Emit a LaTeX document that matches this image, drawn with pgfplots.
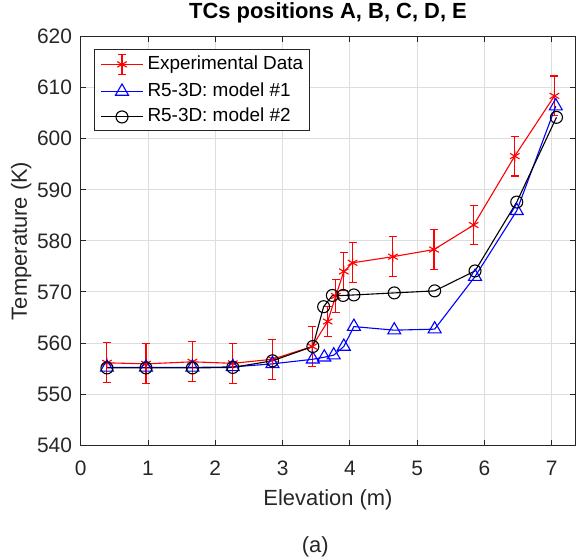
\documentclass[border=0pt]{standalone}
\usepackage{pgfplots}
\pgfplotsset{compat=1.18}
\usepackage{fontspec}
\setmainfont{Liberation Sans}

\definecolor{axgray}{RGB}{38,38,38}
\definecolor{gridgray}{RGB}{222,222,222}

% Legend sample: a 42bp line with the marker in the middle
\pgfplotsset{
  linelegend/.style={legend image code/.code={
    \draw[##1, mark=none] (0bp,0bp) -- (42bp,0bp);
    \draw[##1] plot coordinates {(21bp,0bp)};
  }},
  errlegend/.style={legend image code/.code={
    \draw[##1, mark=none] (0bp,0bp) -- (42bp,0bp);
    \draw[red, line width=1.1bp] (21bp,-10bp) -- (21bp,10bp)
         (17bp,-10bp) -- (25bp,-10bp) (17bp,10bp) -- (25bp,10bp);
    \draw[##1] plot coordinates {(21bp,0bp)};
  }},
}

\begin{document}
\begin{tikzpicture}
\path[use as bounding box] (-80.7bp,-115bp) rectangle (495.3bp,445bp);
\begin{axis}[
  at={(0,0)}, anchor=south west,
  scale only axis, width=494.6bp, height=408.3bp,
  xmin=0, xmax=7.35, ymin=540, ymax=620,
  xtick={0,1,...,7}, ytick={540,550,...,620},
  grid=major, major grid style={gridgray, line width=0.8bp},
  axis line style={axgray, line width=0.8bp},
  tick align=inside, tick pos=both, major tick length=5bp,
  tick style={axgray, line width=0.8bp},
  /pgf/number format/assume math mode=true,
  /pgf/number format/1000 sep={},
  ticklabel style={font=\fontsize{21}{21}\selectfont, text=axgray, inner sep=0pt},
  xticklabel style={anchor=north, yshift=-16bp},
  yticklabel style={anchor=east, xshift=-8.5bp},
  xlabel={Elevation (m)}, ylabel={Temperature (K)},
  label style={font=\fontsize{22}{22}\selectfont, text=axgray, inner sep=0pt},
  xlabel style={at={(axis description cs:0.5,-0.147)}, anchor=base},
  ylabel style={at={(axis description cs:-0.1086,0.5)}, anchor=base},
  title={TCs positions A, B, C, D, E},
  title style={at={(axis description cs:0.5,1.0299)}, anchor=base, inner sep=0pt,
               yshift=0pt, font=\bfseries\fontsize{22}{22}\selectfont, text=black},
  legend style={at={(axis description cs:0.027,0.970)}, anchor=north west,
                draw=axgray, line width=0.8bp, fill=white,
                font=\fontsize{19}{19}\selectfont, text=black,
                inner xsep=6bp, inner ysep=4.5bp, row sep=7.5bp,
                nodes={inner sep=0pt, text height=14bp, text depth=4bp},
                column sep=4bp},
  legend cell align=left,
]

% Experimental data with measurement uncertainty
\addplot[red, line width=1.1bp, mark=asterisk, mark size=5.5bp,
  mark options={solid, line width=1.1bp}, errlegend,
  error bars/.cd, y dir=both, y explicit,
  error bar style={red, line width=1.1bp},
  error mark options={rotate=90, mark size=4bp, line width=1.1bp, red}]
  table[x=x, y=y, y error=e] {
  x     y      e
  0.39  556.1  3.9
  0.97  555.9  3.9
  1.66  556.3  3.9
  2.26  556.0  3.9
  2.85  556.8  3.9
  3.44  559.3  3.9
  3.67  564.2  3.0
  3.79  569.2  3.2
  3.91  574.0  3.8
  4.04  575.7  3.9
  4.64  576.9  3.9
  5.25  578.3  3.9
  5.84  583.1  3.9
  6.45  596.6  3.9
  7.04  608.4  3.9
};
\addlegendentry{Experimental Data}

% R5-3D model #1
\addplot[blue, line width=1.1bp, mark=triangle, mark size=7.5bp,
  mark options={solid, line width=1.1bp}, linelegend]
  table[x=x, y=y] {
  x     y
  0.39  555.2
  0.97  555.2
  1.66  555.2
  2.26  555.3
  2.85  555.9
  3.45  556.8
  3.62  557.2
  3.76  557.6
  3.91  559.3
  4.06  563.2
  4.66  562.5
  5.26  562.7
  5.86  573.0
  6.48  585.9
  7.06  606.4
};
\addlegendentry{R5-3D: model \#1}

% R5-3D model #2
\addplot[black, line width=1.1bp, mark=o, mark size=6bp,
  mark options={solid, line width=1.1bp}, linelegend]
  table[x=x, y=y] {
  x     y
  0.39  555.1
  0.97  555.1
  1.66  555.1
  2.26  555.2
  2.85  556.5
  3.45  559.3
  3.61  567.1
  3.74  569.3
  3.90  569.3
  4.06  569.4
  4.66  569.8
  5.26  570.2
  5.86  574.1
  6.48  587.6
  7.07  604.2
};
\addlegendentry{R5-3D: model \#2}
\end{axis}
\node[font=\fontsize{22}{22}\selectfont, text=axgray, anchor=base, inner sep=0pt]
  at (234.5bp,-107bp) {(a)};
\end{tikzpicture}
\end{document}
